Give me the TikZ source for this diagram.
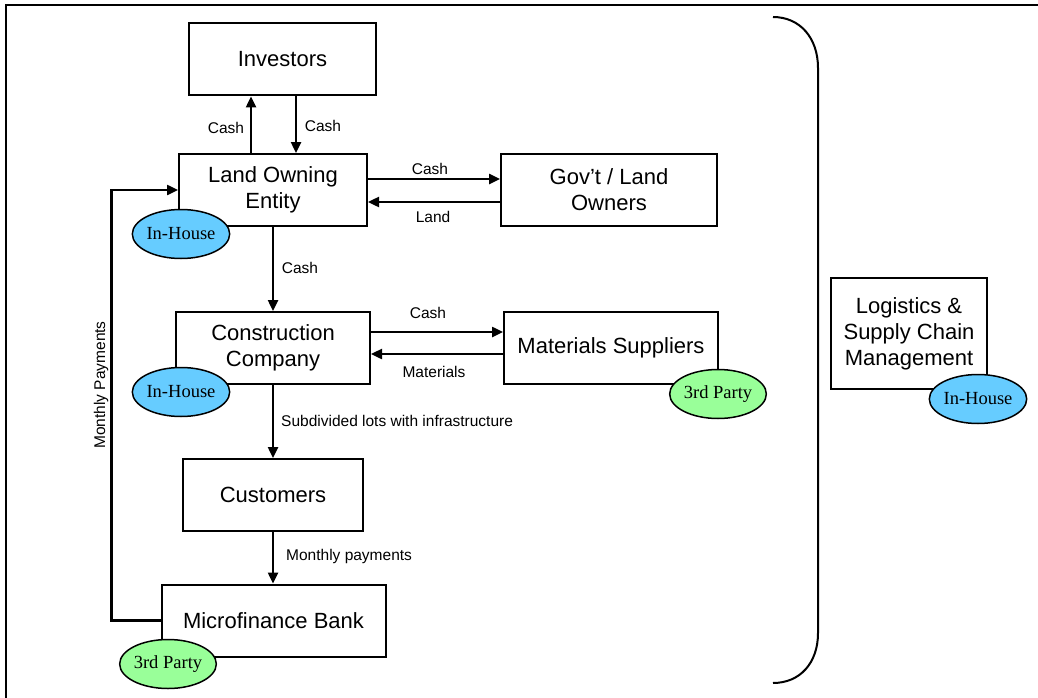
\documentclass[tikz,border=0pt]{standalone}
\usepackage{fontspec}
\setmainfont{Liberation Sans}
\newfontfamily\serifface{Liberation Serif}
\usetikzlibrary{arrows.meta,shapes.geometric}
\definecolor{inhouse}{HTML}{66CCFF}
\definecolor{thirdparty}{HTML}{99FF99}

\begin{document}
\begin{tikzpicture}[x=1pt,y=-1pt,
  entity/.style={draw, line width=2pt, rectangle, minimum height=72pt,
    align=center, inner sep=0pt, font=\fontsize{22}{26}\selectfont},
  tag/.style={ellipse, draw, line width=1.5pt, minimum width=85pt,
    minimum height=49pt, inner sep=0pt, font=\serifface\fontsize{18.5}{21}\selectfont},
  inh/.style={tag, fill=inhouse},
  tp/.style={tag, fill=thirdparty},
  flow/.style={line width=2.4pt, -{Triangle[length=11pt,width=10pt]}},
  lbl/.style={inner sep=0pt, font=\fontsize{15.5}{18}\selectfont}]

\useasboundingbox (0,0) rectangle (1038,698);

% outer frame
\draw[line width=2.4pt] (6,698) -- (6,5) -- (1038,5);

% bracket round the flow
\draw[line width=2pt] (773,17) .. controls (800,17) and (818,38) .. (818,68)
  -- (818,633) .. controls (818,663) and (800,683) .. (773,683);

% parties
\node[entity, minimum width=187pt] (inv) at (282.5,59.5) {Investors};
\node[entity, minimum width=188pt] (loe) at (273,190) {Land Owning\\Entity};
\node[entity, minimum width=216pt] (gov) at (609,190) {Gov't / Land\\Owners};
\node[entity, minimum width=194pt] (con) at (273,348) {Construction\\Company};
\node[entity, minimum width=214pt] (mat) at (611,348) {Materials Suppliers};
\node[entity, minimum width=180pt] (cus) at (273,495) {Customers};
\node[entity, minimum width=224pt] (mfb) at (273.5,620.5) {Microfinance Bank};
\node[entity, minimum width=156pt, minimum height=111pt] (log) at (909,333.5)
  {Logistics \&\\Supply Chain\\Management};

% sourcing tags
\node[inh] (loeTag) at (181,234) {In-House};
\node[inh] (conTag) at (181,392) {In-House};
\node[tp]  (matTag) at (718,394) {3rd Party};
\node[tp]  (mfbTag) at (168,664) {3rd Party};
\node[inh] (logTag) at (978,399) {In-House};

% investors <-> land owning entity
\draw[flow] ([xshift=-22pt]loe.north) -- ([xshift=-22pt]loe.north |- inv.south);
\draw[flow] ([xshift=23pt]loe.north |- inv.south) -- ([xshift=23pt]loe.north);
\node[lbl] (invCashUp) at (226,128) {Cash};
\node[lbl] (invCashDown) at (323,126) {Cash};

% land owning entity <-> government / land owners
\draw[flow] ([yshift=11pt]loe.east) -- ([yshift=11pt]loe.east -| gov.west);
\draw[flow] ([yshift=-12pt]gov.west) -- ([yshift=-12pt]gov.west -| loe.east);
\node[lbl] (govCash) at (430,169) {Cash};
\node[lbl] (govLand) at (433,217) {Land};

% down the chain
\draw[flow] (loe.south) -- (loe.south |- con.north);
\node[lbl] (conCash) at (300,268) {Cash};

% construction company <-> materials suppliers
\draw[flow] ([yshift=16pt]con.east) -- ([yshift=16pt]con.east -| mat.west);
\draw[flow] ([yshift=-6pt]mat.west) -- ([yshift=-6pt]mat.west -| con.east);
\node[lbl] (matCash) at (428,313) {Cash};
\node[lbl] (matGoods) at (434,372) {Materials};

\draw[flow] (con.south) -- (con.south |- cus.north);
\node[lbl, anchor=west] (lots) at (281,421) {Subdivided lots with infrastructure};

\draw[flow] (cus.south) -- (cus.south |- mfb.north);
\node[lbl, anchor=west] (custPay) at (286,556) {Monthly payments};

% bank pays back the land owning entity
\draw[flow] (mfb.west) -- ++(-49,0) |- (loe.west);
\node[lbl, rotate=90] (bankPay) at (101,385) {Monthly Payments};

\end{tikzpicture}
\end{document}
